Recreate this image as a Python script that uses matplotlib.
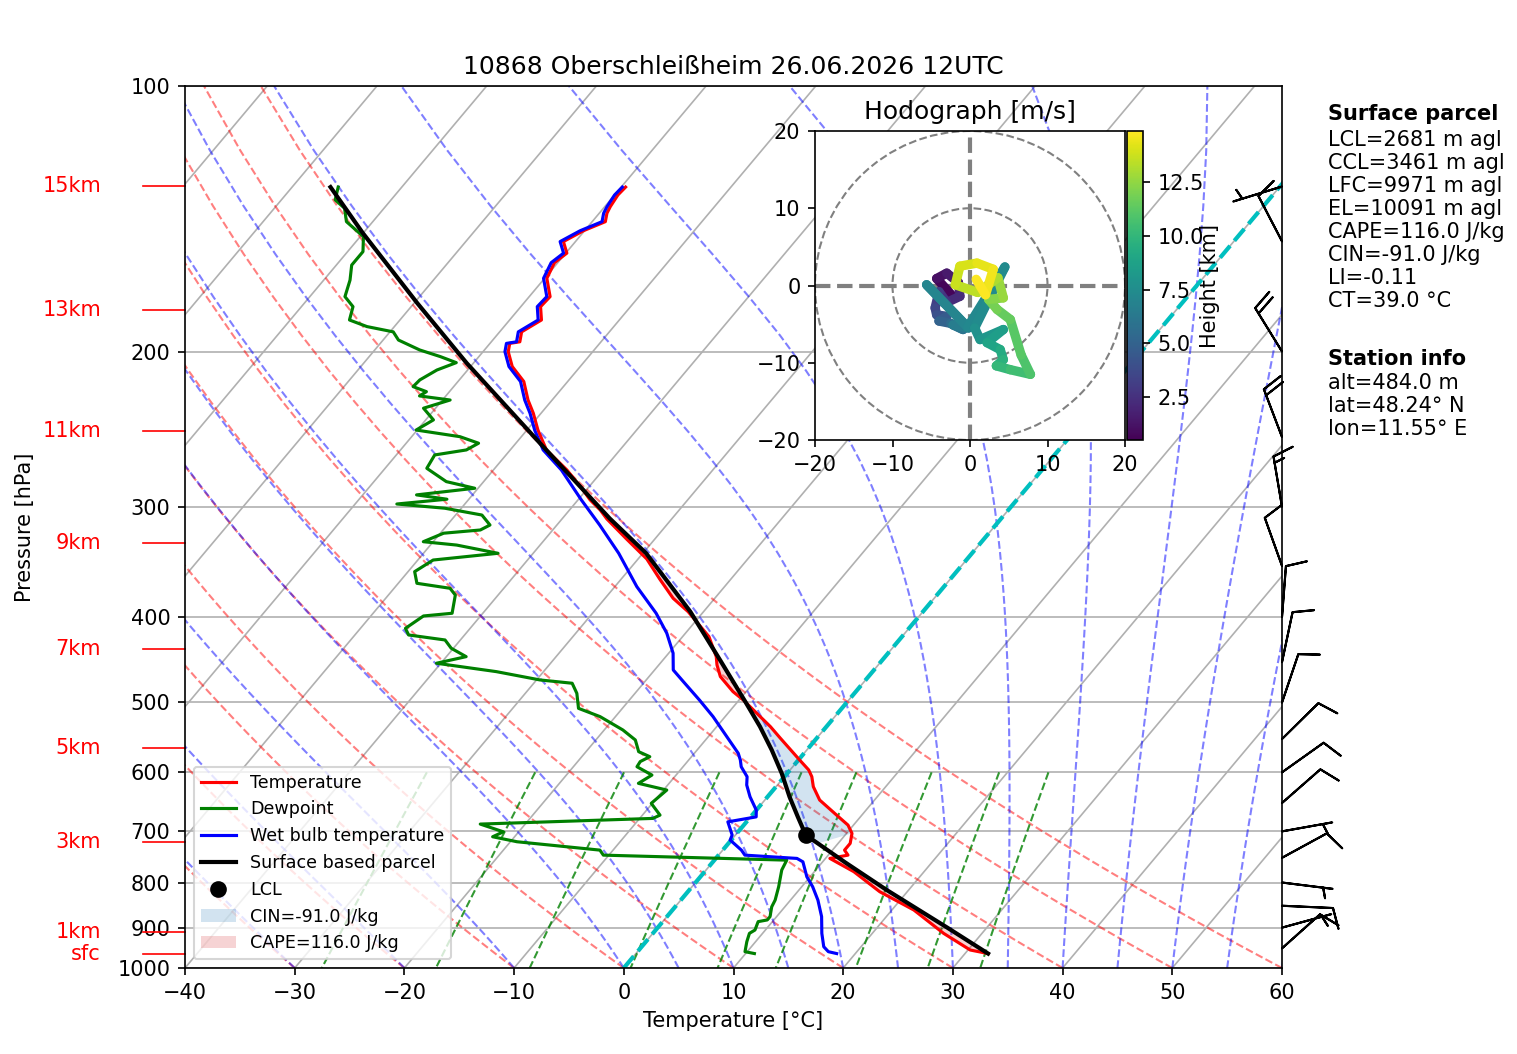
import numpy as np
import matplotlib
matplotlib.use('Agg')
import matplotlib.pyplot as plt
import matplotlib.transforms as mtransforms
from matplotlib.collections import LineCollection
from matplotlib.patches import Circle, Patch
from matplotlib.colors import Normalize
from matplotlib.ticker import NullLocator

# ---- sounding data (pressure hPa, temperature degC), surface first
temp_p = [963, 954.1, 913.5, 859.5, 819.5, 777.7, 751.2, 744.8, 735.1, 722.3, 703.7, 688.6,
          670.9, 645.0, 622.9, 606.9, 596.3, 580.9, 549.0, 532.6, 496.9, 486.0, 467.3, 453.3,
          443.6, 421.0, 394.5, 380.9, 362.2, 343.8, 326.2, 309.7, 302.5, 294.6, 287.1, 272.5,
          258.6, 245.5, 235.0, 227.0, 216.3, 208.0, 200.1, 195.8, 195.0, 190.0, 184.2, 177.9,
          173.3, 165.2, 158.6, 154.7, 150.1, 145.9, 142.5, 139.4, 137.0, 132.9, 130.2]
temp_t = [32.1, 30.2, 26.5, 22.0, 17.5, 13.6, 10.4, 11.8, 11.1, 11.1, 10.5, 9.5,
          7.7, 5.0, 3.4, 2.5, 1.7, 0.1, -3.3, -5.1, -9.6, -11.2, -13.5, -14.7,
          -15.4, -17.6, -21.4, -23.8, -26.5, -29.2, -32.6, -35.9, -37.2, -38.9, -40.3, -43.3,
          -46.7, -49.0, -50.7, -52.2, -54.0, -56.2, -57.7, -58.2, -57.4, -58.0, -57.1, -58.2,
          -58.1, -59.8, -60.3, -59.9, -61.1, -60.1, -58.8, -59.3, -59.5, -59.7, -59.6]

dew_p = [963, 958.3, 933.6, 913.5, 905.6, 886.0, 882.1, 874.5, 852.3, 837.6, 808.9, 788.0,
         774.3, 754.6, 744.8, 735.1, 719.2, 709.9, 700.8,
         686.8, 676.7, 670.9, 650.6, 628.4, 617.5, 604.3, 591.3, 583.4, 576.0, 568.5, 551.4,
         537.2, 518.8, 507.7, 488.2, 475.5, 471.4, 461.3, 451.3, 443.6, 434.0, 424.7, 419.2,
         412.0, 398.9, 396.1, 377.7, 371.1, 366.3, 355.3, 344.7, 338.7, 331.5, 328.6, 321.4,
         318.7, 314.6, 306.5, 301.1, 297.8, 294.1, 290.8, 285.8, 280.9, 271.3, 262.0, 258.6,
         254.1, 249.8, 245.5, 239.1, 231.9, 227.0, 224.6, 222.1, 219.2, 215.4, 209.9, 205.9,
         202.7, 199.2, 194.1, 190.0, 187.4, 184.2, 177.9, 173.3, 166.0, 159.6, 154.1, 148.2,
         142.5, 137.6, 134.6, 130.2]
dew_t = [10.8, 9.8, 9.2, 8.8, 9.05, 8.7, 9.4, 9.4, 8.8, 8.6, 7.9, 7.3,
         6.9, 6.6, -10.5, -11.2, -19.4, -22.0, -21.4,
         -24.1, -8.8, -8.4, -10.1, -9.7, -12.8, -12.2, -14.2, -14.3, -13.8, -15.2, -16.4,
         -18.3, -21.4, -24.0, -25.3, -26.5, -29.7, -34.3, -40.4, -38.2, -40.2, -41.4, -45.1,
         -45.9, -45.2, -42.8, -43.9, -44.9, -48.3, -49.4, -48.6, -43.2, -47.6, -50.9, -49.7,
         -46.6, -46.1, -47.6, -51.5, -56.2, -52.0, -55.1, -50.3, -53.4, -56.2, -56.5, -54.0,
         -53.4, -55.6, -60.1, -59.3, -61.1, -59.3, -62.4, -62.1, -63.7, -63.6, -62.8, -61.6,
         -63.5, -65.9, -68.6, -69.7, -72.5, -74.6, -75.3, -76.8, -77.6, -78.6, -78.6, -79.7,
         -82.4, -83.6, -85.1, -85.8]

wb_p = [963, 958.3, 946.0, 913.5, 874.5, 837.6, 808.9, 788.0, 757.9, 751.2, 744.8, 735.1,
        716.0, 706.7, 682.8, 674.0, 662.3, 639.5, 620.2, 606.9, 591.3, 580.9, 570.9, 546.8,
        518.8, 496.9, 473.4, 459.3, 439.6, 417.3, 396.1, 369.5, 338.7, 314.6, 294.6, 272.5,
        258.6, 245.5, 235.0, 227.0, 216.3, 208.0, 200.1, 195.8, 195.0, 190.0, 184.2, 177.9,
        173.3, 165.2, 158.6, 154.7, 150.1, 145.9, 142.5, 139.4, 137.0, 132.9, 130.2]
wb_t = [18.3, 17.4, 16.6, 15.4, 14.1, 12.5, 11.0, 9.7, 8.2, 7.4, 2.4, 1.7,
        -0.1, -0.3, -1.7, 0.5, 0.0, -1.6, -2.8, -3.4, -4.7, -5.3, -6.0, -8.3,
        -11.1, -13.6, -16.5, -18.3, -19.6, -21.7, -24.2, -28.0, -32.2, -36.1, -39.7, -43.8,
        -47.0, -49.3, -51.0, -52.5, -54.3, -56.5, -58.0, -58.5, -57.7, -58.3, -57.4, -58.5,
        -58.4, -60.1, -60.6, -60.2, -61.4, -60.4, -59.1, -59.6, -59.8, -60.0, -59.9]

parcel_p = [963, 900, 815.8, 760, 706.6, 674.0, 639.5, 601.6, 566.0, 532.6, 499.0, 447.5,
            394.5, 338.7, 309.2, 254.1, 206.2, 176.3, 146.9, 130.2]
parcel_t = [32.1, 26.4, 18.0, 12.2, 6.4, 4.3, 2.0, -0.5, -3.2, -6.05, -9.3, -14.8,
            -21.2, -29.7, -35.7, -47.8, -60.6, -69.7, -80.0, -86.5]
lcl_p = 706.6
lcl_t = 6.4

# wind barbs (kt)
barb_p = [950, 900, 850, 800, 750, 700, 650, 600, 550, 500, 450, 400, 350, 300, 250, 200, 150, 130]
barb_u = [-7.45, -4.82, -9.99, -4.96, -8.78, -4.92, -7.52, -8.15, -7.13, -3.20, -2.07, -0.77,
          3.37, 2.49, 7.10, 10.49, 4.62, 4.78]
barb_v = [-6.67, -1.32, 0.45, 0.62, -4.79, -0.88, -6.59, -5.80, -7.02, -9.47, -9.78, -9.96,
          -9.41, -14.79, -18.69, -17.01, -8.88, 1.47]

# hodograph (height km, u/v m/s)
hodo_h = [0.5, 0.9, 1.3, 1.7, 2.1, 2.5, 2.9, 3.3, 3.8, 4.3, 4.8, 5.3, 5.8, 6.3, 6.8, 7.0, 7.1,
          7.3, 7.5, 7.9, 8.3, 8.7, 9.1, 9.5, 9.9, 10.3, 10.7, 11.0, 11.3, 11.7, 12.1, 12.5,
          12.9, 13.3, 13.6, 13.9, 14.2, 14.5, 14.7, 14.9]
hodo_u = [-2.4, -4.3, -3.0, -1.5, -1.3, -3.0, -4.0, -4.5, -4.3, -3.0, -4.0, -2.5, -0.9, -2.2,
          -0.2, -5.6, -0.3, 4.5, 0.6, 1.3, 4.3, 2.2, 3.9, 4.3, 3.4, 5.2, 7.8, 6.6, 5.2, 3.5,
          2.4, 4.3, 3.6, 1.0, -1.9, -1.3, 0.9, 3.0, 2.0, 0.8]
hodo_v = [-1.2, 0.9, 1.6, 0.4, -1.4, -2.2, -0.8, -2.9, -3.8, -4.0, -4.6, -4.9, -5.7, -5.1,
          -5.5, 0.1, -5.4, 2.4, -5.5, -7.0, -5.7, -7.4, -8.3, -9.6, -10.4, -10.9, -11.5, -9.0,
          -4.4, -3.1, -1.8, -1.6, 1.0, -0.9, 0.1, 2.5, 2.9, 2.1, -1.2, 0.8]

hgt_lbl = ['15km', '13km', '11km', '9km', '7km', '5km', '3km', '1km', 'sfc']
hgt_p = [129.8, 179.5, 246.0, 329.7, 434.7, 563.0, 719.9, 910.4, 964.0]

title = '10868 Oberschleißheim 26.06.2026 12UTC'
parcel_lines = ['LCL=2681 m agl', 'CCL=3461 m agl', 'LFC=9971 m agl', 'EL=10091 m agl',
                'CAPE=116.0 J/kg', 'CIN=-91.0 J/kg', 'LI=-0.11', 'CT=39.0 °C']
station_lines = ['alt=484.0 m', 'lat=48.24° N', 'lon=11.55° E']
cape_lbl = 'CAPE=116.0 J/kg'
cin_lbl = 'CIN=-91.0 J/kg'

SKEW = 67.5  # degC shift per decade of pressure


def sx(t, p):
    return np.asarray(t, float) + SKEW * np.log10(1000.0 / np.asarray(p, float))


def moist_lapse(t0, pres):
    Rd, Cp, Lv, eps = 287.04749, 1004.6662, 2.50084e6, 0.6219569

    def dtdp(p, T):
        es = 6.112 * np.exp(17.67 * (T - 273.15) / (T - 29.65))
        rs = eps * es / (p - es)
        return (Rd * T + Lv * rs) / (Cp + Lv * Lv * rs * eps / (Rd * T * T)) / p

    T = np.asarray(t0, float) + 273.15
    out = [T.copy()]
    for i in range(1, len(pres)):
        n = 10
        h = (pres[i] - pres[i - 1]) / n
        p = pres[i - 1]
        for _ in range(n):
            k1 = dtdp(p, T)
            k2 = dtdp(p + h / 2, T + h * k1 / 2)
            k3 = dtdp(p + h / 2, T + h * k2 / 2)
            k4 = dtdp(p + h, T + h * k3)
            T = T + h * (k1 + 2 * k2 + 2 * k3 + k4) / 6
            p += h
        out.append(T.copy())
    return np.array(out) - 273.15


fig = plt.figure(figsize=(1517 / 150, 1054 / 150), dpi=150)
ax = fig.add_axes([185 / 1517, 86 / 1054, 1097 / 1517, 882 / 1054])
ax.set_yscale('log')

pres = np.linspace(1000, 100, 50)

# isotherms
for t in range(-100, 61, 10):
    ax.plot(sx([t, t], [1000, 100]), [1000, 100], color='#b0b0b0', lw=0.8, zorder=0.5)

# dry adiabats
for t0 in range(-40, 61, 10):
    tt = (t0 + 273.15) * (pres / 1000.0) ** 0.2857 - 273.15
    ax.plot(sx(tt, pres), pres, color='r', ls='--', lw=1, alpha=0.5, zorder=1)

# moist adiabats
mt0 = np.concatenate((np.arange(-40, 0, 10), np.arange(0, 61, 5)))
mprof = moist_lapse(mt0, pres)
for j in range(len(mt0)):
    ax.plot(sx(mprof[:, j], pres), pres, color='b', ls='--', lw=1, alpha=0.5, zorder=1)

# mixing ratio lines
mpres = np.linspace(600, 1000, 7)
for w in [0.0004, 0.001, 0.002, 0.004, 0.007, 0.01, 0.016, 0.024, 0.032]:
    e = mpres * w / (0.6219569 + w)
    le = np.log(e / 6.112)
    td = 243.5 * le / (17.67 - le)
    ax.plot(sx(td, mpres), mpres, color='g', ls='--', lw=1, alpha=0.8, zorder=1)

ax.plot(sx([0, 0], [1000, 100]), [1000, 100], color='c', ls='--', lw=2, zorder=1.5)

# CAPE / CIN shading
tp = np.array(temp_p)
tt = np.array(temp_t)
pt = np.interp(np.log(tp), np.log(parcel_p[::-1]), parcel_t[::-1])
ax.fill_betweenx(tp, sx(pt, tp), sx(tt, tp), where=pt > tt, interpolate=True,
                 facecolor='tab:red', alpha=0.2, lw=0, zorder=1.8)
ax.fill_betweenx(tp, sx(pt, tp), sx(tt, tp), where=(pt < tt) & (tp <= 704) & (tp >= 495),
                 interpolate=True, facecolor='tab:blue', alpha=0.2, lw=0, zorder=1.8)

l1, = ax.plot(sx(temp_t, temp_p), temp_p, 'r', lw=1.5, label='Temperature', zorder=3)
l2, = ax.plot(sx(dew_t, dew_p), dew_p, 'g', lw=1.5, label='Dewpoint', zorder=3)
l3, = ax.plot(sx(wb_t, wb_p), wb_p, 'b', lw=1.5, label='Wet bulb temperature', zorder=3)
l4, = ax.plot(sx(parcel_t, parcel_p), parcel_p, 'k', lw=2, label='Surface based parcel', zorder=4)
l5, = ax.plot(sx([lcl_t], [lcl_p]), [lcl_p], 'ko', ms=7, ls='none', label='LCL', zorder=5)

ax.set_xlim(-40, 60)
ax.set_ylim(1000, 100)
ax.set_yticks(range(100, 1001, 100))
ax.set_yticklabels([str(v) for v in range(100, 1001, 100)])
ax.yaxis.set_minor_locator(NullLocator())
ax.set_xticks(range(-40, 61, 10))
ax.yaxis.grid(True, color='#b0b0b0', lw=0.8)
ax.set_axisbelow(True)
ax.set_xlabel('Temperature [°C]')
ax.set_ylabel('Pressure [hPa]')
ax.yaxis.set_label_coords(-0.137, 0.5)
ax.set_title(title, fontsize=12)

trans = mtransforms.blended_transform_factory(ax.transAxes, ax.transData)
for lbl, p in zip(hgt_lbl, hgt_p):
    ax.plot([-0.0383, 0], [p, p], color='r', lw=0.8, transform=trans, clip_on=False)
    ax.text(-0.0766, p, lbl, color='r', ha='right', va='center', transform=trans)

ax.barbs(np.ones(len(barb_p)), barb_p, barb_u, barb_v, transform=trans, clip_on=False,
         length=7, zorder=6)

handles = [l1, l2, l3, l4, l5,
           Patch(facecolor='tab:blue', alpha=0.2, label=cin_lbl),
           Patch(facecolor='tab:red', alpha=0.2, label=cape_lbl)]
ax.legend(handles=handles, loc='lower left', fontsize=8.4)

# hodograph
hax = fig.add_axes([815 / 1517, 614 / 1054, 310 / 1517, 309 / 1054])
hax.set_xlim(-20, 20)
hax.set_ylim(-20, 20)
for r in (10, 20):
    hax.add_patch(Circle((0, 0), r, fill=False, ls='--', color='grey', lw=1))
hax.axhline(0, ls='--', color='grey', lw=2)
hax.axvline(0, ls='--', color='grey', lw=2)
pts = np.column_stack([hodo_u, hodo_v])
segs = np.stack([pts[:-1], pts[1:]], axis=1)
hh = np.array(hodo_h)
lc = LineCollection(segs, cmap='viridis', norm=Normalize(min(hodo_h), max(hodo_h)),
                    linewidths=4.5, capstyle='round', joinstyle='round')
lc.set_array((hh[:-1] + hh[1:]) / 2)
hax.add_collection(lc)
hax.set_title('Hodograph [m/s]', fontsize=12)

cax = fig.add_axes([1127 / 1517, 614 / 1054, 16 / 1517, 309 / 1054])
cb = fig.colorbar(lc, cax=cax)
cb.set_ticks([2.5, 5.0, 7.5, 10.0, 12.5])
cb.set_label('Height [km]', labelpad=-2)

# info text
xt = 1328 / 1517
fig.text(xt, 1 - 114 / 1054, 'Surface parcel', fontweight='bold', va='center')
for i, s in enumerate(parcel_lines):
    fig.text(xt, 1 - (140 + 23.0 * i) / 1054, s, va='center')
fig.text(xt, 1 - 359.3 / 1054, 'Station info', fontweight='bold', va='center')
for i, s in enumerate(station_lines):
    fig.text(xt, 1 - (382.7 + 23.0 * i) / 1054, s, va='center')

fig.savefig('out.png', dpi=150)
